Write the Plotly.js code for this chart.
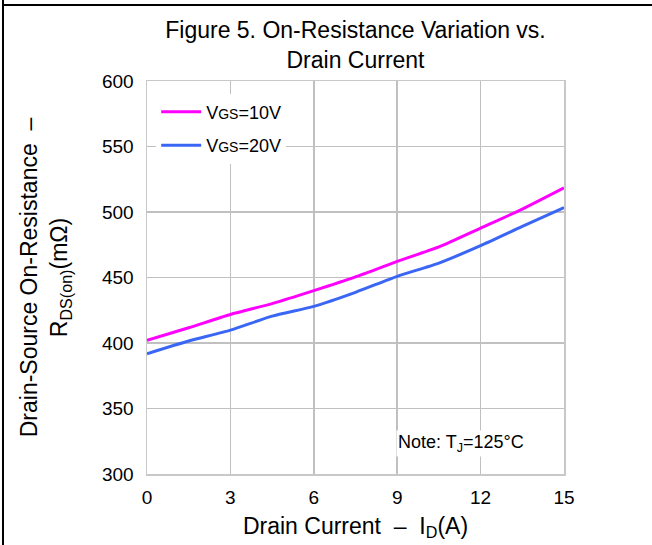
<!DOCTYPE html>
<html>
<head>
<meta charset="utf-8">
<script src="https://cdn.plot.ly/plotly-3.0.1.min.js"></script>
<style>
  html, body { margin: 0; padding: 0; background: #fff; }
  #wrap { position: relative; width: 652px; height: 545px; overflow: hidden; }
  #chart { position: absolute; left: 0; top: 0; width: 652px; height: 545px; }
  #bl { position: absolute; left: 2px; top: 0; width: 2px; height: 545px; background: #000; }
  #bt { position: absolute; left: 2px; top: 4px; width: 650px; height: 2px; background: #000; }
</style>
</head>
<body>
<div id="wrap">
  <div id="chart"></div>
  <div id="bl"></div>
  <div id="bt"></div>
</div>
<script>
const currentA = [0, 1.5, 3, 4.5, 6, 7.5, 9, 10.5, 12, 13.5, 15];
const rdsVgs10 = [402, 411.6, 421.8, 430.1, 440, 450.5, 462.3, 473.3, 487.7, 502.2, 518.4];
const rdsVgs20 = [391.8, 401.5, 409.8, 420.5, 428, 438.7, 450.9, 461, 474.3, 489, 503.4];
const xTicks = [0, 3, 6, 9, 12, 15];
const yTicks = [300, 350, 400, 450, 500, 550, 600];
const seriesNames = ['V<span style="font-size:14px">GS</span>=10V', 'V<span style="font-size:14px">GS</span>=20V'];

const font = 'Liberation Sans, Arial, sans-serif';

const traces = [
  { x: currentA, y: rdsVgs10, name: seriesNames[0], mode: 'lines', legendgroup: 'a',
    line: { color: '#ff00ff', width: 3, shape: 'spline', smoothing: 0.6 } },
  { x: currentA, y: rdsVgs20, name: seriesNames[1], mode: 'lines', legendgroup: 'b',
    line: { color: '#3a66f5', width: 3, shape: 'spline', smoothing: 0.6 } }
];

const layout = {
  width: 652, height: 545,
  margin: { l: 147, r: 88, t: 81, b: 71 },
  paper_bgcolor: '#fff', plot_bgcolor: '#fff',
  font: { family: font, color: '#000', size: 19 },
  showlegend: true,
  title: {
    text: 'Figure 5. On-Resistance Variation vs.<br>Drain Current',
    font: { family: font, size: 23, color: '#000' },
    x: 0.5, xref: 'paper', xanchor: 'center',
    y: 1 - 38 / 545, yref: 'container', yanchor: 'middle'
  },
  xaxis: {
    range: [0, 15], tickvals: xTicks, ticktext: xTicks.map(String),
    showgrid: true, gridcolor: '#c0c0c0', gridwidth: 1.5,
    zeroline: false, showline: true, linecolor: '#c8c8c8', linewidth: 1.5, mirror: true,
    ticks: '', ticklabelstandoff: 6, tickfont: { family: font, size: 19, color: '#000' },
    title: { text: 'Drain Current  \u2013  I<sub>D</sub>(A)', font: { family: font, size: 23, color: '#000' }, standoff: 10 },
    automargin: false
  },
  yaxis: {
    range: [300, 600], tickvals: yTicks, ticktext: yTicks.map(String),
    showgrid: true, gridcolor: '#c0c0c0', gridwidth: 1.5,
    zeroline: false, showline: true, linecolor: '#c8c8c8', linewidth: 1.5, mirror: true,
    ticks: '', ticklabelstandoff: 8, tickfont: { family: font, size: 19, color: '#000' },
    title: { text: 'Drain-Source On-Resistance  \u2013<br>R<sub>DS(on)</sub>(m\u03A9)', font: { family: font, size: 23, color: '#000' }, standoff: 28 },
    automargin: false
  },
  legend: {
    x: 0.022, y: 0.968, xanchor: 'left', yanchor: 'top',
    bgcolor: '#fff', borderwidth: 0,
    font: { family: font, size: 18, color: '#000' },
    traceorder: 'grouped', tracegroupgap: 7,
    itemwidth: 40
  },
  annotations: [
    { x: 0.753, y: 0.078, xref: 'paper', yref: 'paper', xanchor: 'center', yanchor: 'middle',
      text: 'Note: T<sub>J</sub>=125\u00B0C', showarrow: false,
      font: { family: font, size: 18, color: '#000' }, bgcolor: '#fff' }
  ]
};

Plotly.newPlot('chart', traces, layout, { displayModeBar: false, staticPlot: true });
</script>
</body>
</html>
